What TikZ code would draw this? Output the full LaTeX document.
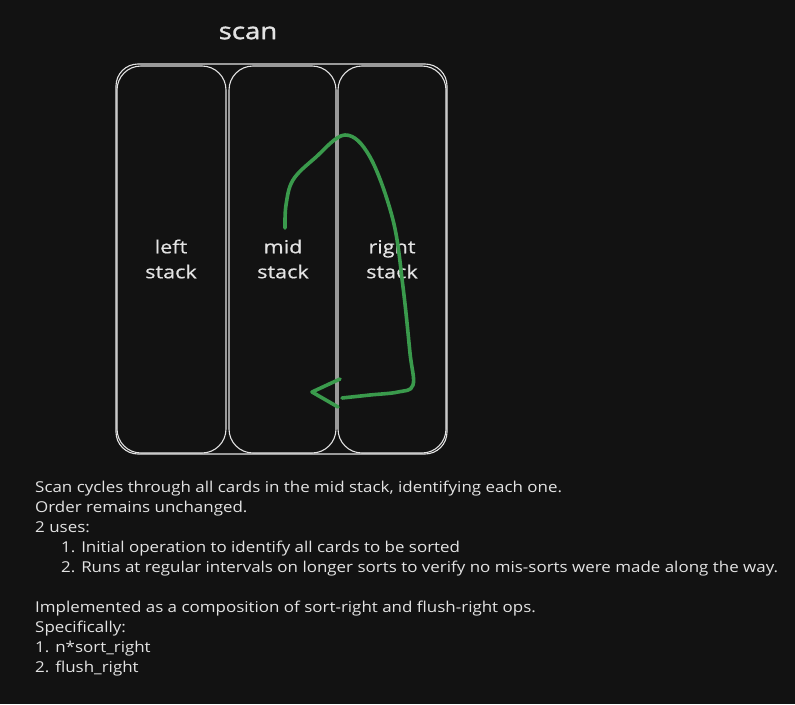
\documentclass[tikz,border=0pt]{standalone}
\usepackage{fontspec}
\setmainfont{Open Sans}[FakeStretch=1.13]
\newfontfamily\labelfont{Open Sans}[FakeStretch=1.2,FakeBold=0.6]
\newfontfamily\titlefont{Open Sans}[FakeStretch=1.2,FakeBold=1.5]
\definecolor{bg}{HTML}{121212}
\definecolor{fg}{HTML}{E3E3E3}
\definecolor{grn}{HTML}{3A9A4C}
\begin{document}
\begin{tikzpicture}[x=1pt,y=-1pt,
  stackbox/.style={draw=fg,line width=1.1pt,rounded corners=24pt},
  lbl/.style={text=fg,font=\labelfont\fontsize{18}{25}\selectfont,align=center},
  body/.style={text=fg,font=\fontsize{15}{20}\selectfont,anchor=base west,inner sep=0pt},
  greenpath/.style={draw=grn,line width=3.6pt,line cap=round,line join=round}]
\fill[bg] (0,0) rectangle (795,704);
\useasboundingbox (0,0) rectangle (795,704);
\node[text=fg,font=\titlefont\fontsize{23}{26}\selectfont] (title) at (248,33) {scan};
\draw[stackbox,rounded corners=22pt] (116,64) rectangle (447,454);
\draw[stackbox] (117,66) rectangle (226,453);
\draw[stackbox] (229,66) rectangle (336,453);
\draw[stackbox] (338,66) rectangle (446,453);
\node[lbl] (left) at (171,259) {left\\stack};
\node[lbl] (mid) at (283,259) {mid\\stack};
\node[lbl] (right) at (392,259) {right\\stack};
\coordinate (s) at (285,228);
\coordinate (e) at (342,398);
\coordinate (tip) at (312,392);
\draw[greenpath] plot[smooth,tension=0.6] coordinates {(s) (286,205) (293,180) (315,158) (345,135) (370,157) (393,220) (403,287) (410,353) (413,385) (398,392) (370,395) (e)};
\draw[greenpath] (340,379) -- (tip) -- (338,407);
\node[body] (t1) at (35,492) {Scan cycles through all cards in the mid stack, identifying each one.};
\node[body] (t2) at (35,512) {Order remains unchanged.};
\node[body] (t3) at (35,532) {2 uses:};
\node[body] (t4) at (61,552) {1. Initial operation to identify all cards to be sorted};
\node[body] (t5) at (61,572) {2. Runs at regular intervals on longer sorts to verify no mis-sorts were made along the way.};
\node[body] (t6) at (35,612) {Implemented as a composition of sort-right and flush-right ops.};
\node[body] (t7) at (35,632) {Specifically:};
\node[body] (t8) at (35,652) {1. n*sort\_right};
\node[body] (t9) at (35,672) {2. flush\_right};
\end{tikzpicture}
\end{document}
